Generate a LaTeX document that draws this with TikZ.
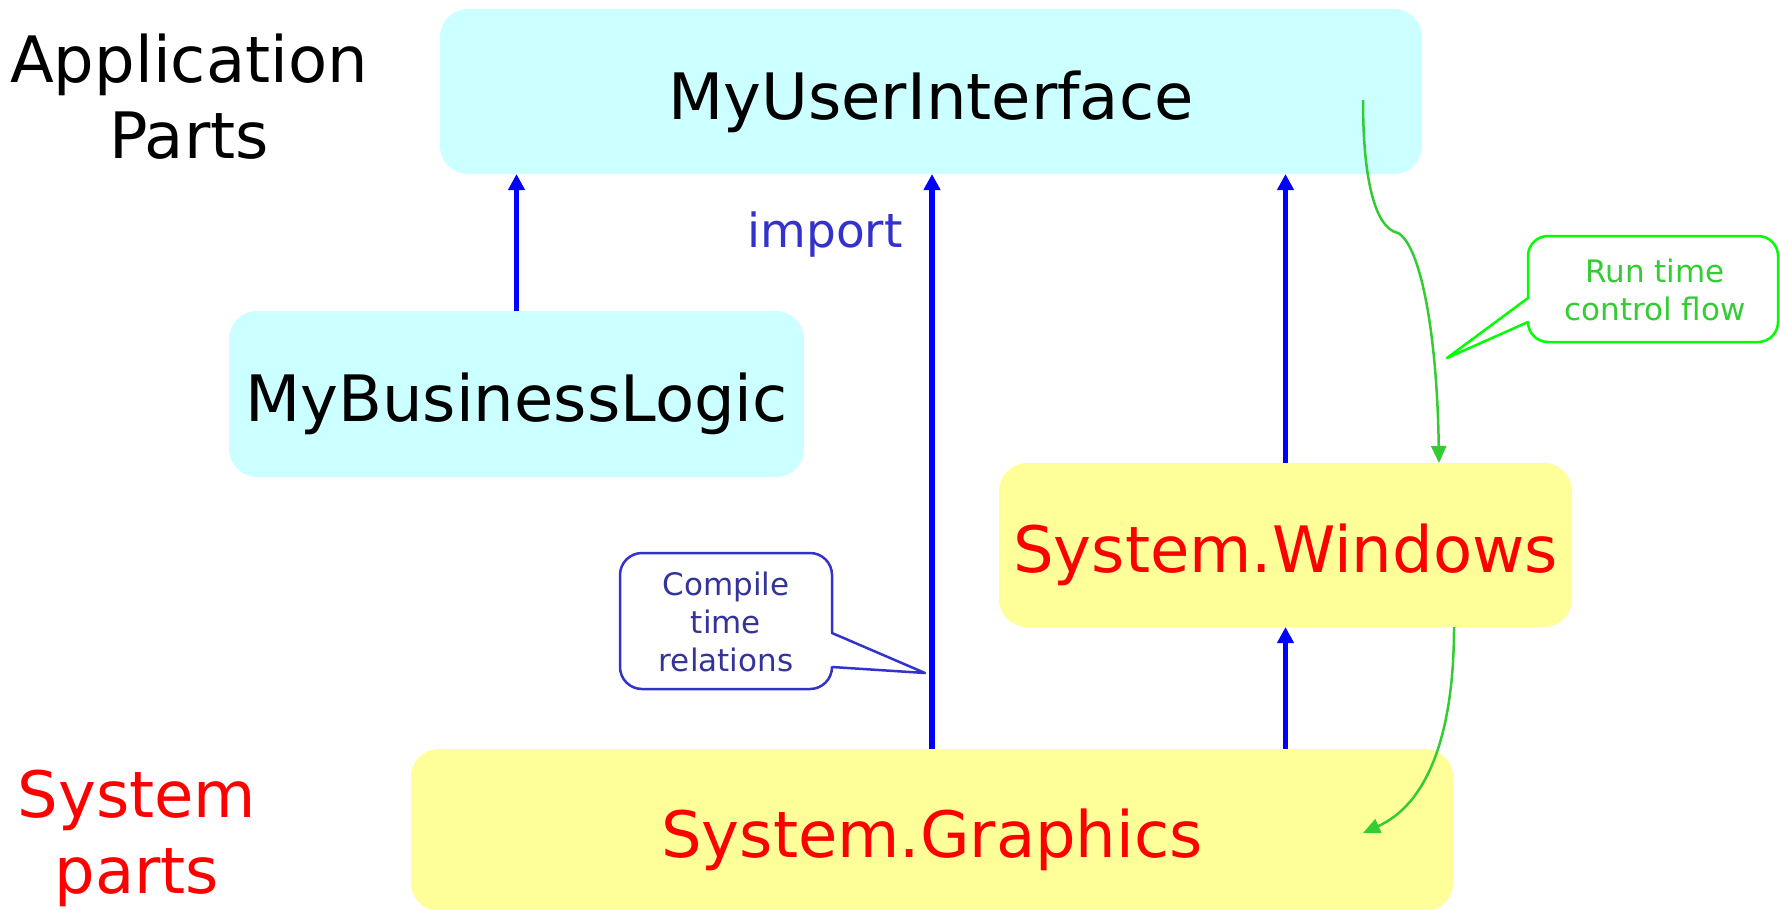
\documentclass[tikz,border=0pt]{standalone}
\usepackage{fontspec}
\setmainfont{DejaVu Sans}
\usetikzlibrary{arrows.meta}

\definecolor{uicyan}{HTML}{CCFFFF}
\definecolor{sysyellow}{HTML}{FFFF99}
\definecolor{sysred}{HTML}{FF0000}
\definecolor{depblue}{HTML}{0000FF}
\definecolor{importblue}{HTML}{3333CC}
\definecolor{notetext}{HTML}{333399}
\definecolor{noteedge}{HTML}{3333CC}
\definecolor{flowgreen}{HTML}{33CC33}
\definecolor{flowedge}{HTML}{00FF00}

\begin{document}
\begin{tikzpicture}[x=1pt,y=-1pt,
  partbox/.style={rectangle, rounded corners=28pt, inner sep=0pt, outer sep=0pt,
    minimum height=165pt, text height=70pt, text depth=15pt,
    font=\fontsize{64}{76}\selectfont},
  appbox/.style={partbox, fill=uicyan, text=black},
  sysbox/.style={partbox, fill=sysyellow, text=sysred},
  sidelabel/.style={inner sep=0pt, align=center, anchor=north,
    font=\fontsize{64}{76}\selectfont},
  notetextstyle/.style={inner sep=0pt, align=center, anchor=north,
    font=\fontsize{31}{38}\selectfont},
  dependency/.style={draw=depblue, line width=5.5pt,
    -{Triangle[length=16pt,width=16pt]}},
  flow/.style={draw=flowgreen, line width=2.5pt,
    -{Triangle[length=17pt,width=15pt]}},
  compileedge/.style={draw=noteedge, line width=2.5pt, line join=round},
  flowedgeline/.style={draw=flowedge, line width=2.5pt, line join=round}
]
\useasboundingbox (0,0) rectangle (1780,910);

% layers of the application
\node[appbox, minimum width=982pt] (ui) at (931,91.5) {MyUserInterface};
\node[appbox, minimum width=575pt, minimum height=166pt] (logic) at (516.5,394) {MyBusinessLogic};
\node[sysbox, minimum width=573pt, minimum height=164pt] (windows) at (1285.5,545) {System.Windows};
\node[sysbox, minimum width=1042pt, minimum height=162pt] (graphics) at (932,830) {System.Graphics};

% side captions
\node[sidelabel, text=black] (appParts) at (189,33.5) {Application\\Parts};
\node[sidelabel, text=sysred] (sysParts) at (137,770) {System\\parts};

% compile time dependencies
\draw[dependency] (logic.north) -- (logic.north |- ui.south);
\draw[dependency] (graphics.north) -- (graphics.north |- ui.south);
\draw[dependency] (windows.north) -- (windows.north |- ui.south);
\draw[dependency] (graphics.north -| windows.north) -- (windows.south);

\node[inner sep=0pt, anchor=base, text=importblue, font=\fontsize{47}{56}\selectfont]
  (importLabel) at (825,247) {import};

% run time control flow
\coordinate (flowStart) at (1363,100);
\coordinate (flowEnd) at (1363,833);
\draw[flow] (flowStart) .. controls (1363,180) and (1375,228) .. (1398,233)
  .. controls (1420,245) and (1437,330) .. ([xshift=153.5pt]windows.north);
\draw[flow] ([xshift=168.5pt]windows.south) .. controls (1454,740) and (1425,805) .. (flowEnd);

% callout: compile time relations
\node[notetextstyle, text=notetext] (compileNote) at (726,571.5) {Compile\\time\\relations};
\coordinate (compileTip) at (925,673);
\draw[compileedge] (642,553) -- (810,553) arc[start angle=90, end angle=0, radius=22pt]
  -- (832,633) -- (compileTip) -- (832,667)
  arc[start angle=0, end angle=-90, radius=22pt] -- (642,689)
  arc[start angle=270, end angle=180, radius=22pt] -- (620,575)
  arc[start angle=180, end angle=90, radius=22pt] -- cycle;

% callout: run time control flow
\node[notetextstyle, text=flowgreen] (flowNote) at (1655,258.5) {Run time\\control flow};
\coordinate (flowTip) at (1447,358);
\draw[flowedgeline] (1548,236) -- (1758,236) arc[start angle=90, end angle=0, radius=20pt]
  -- (1778,322) arc[start angle=0, end angle=-90, radius=20pt] -- (1548,342)
  arc[start angle=270, end angle=180, radius=20pt] -- (flowTip) -- (1528,298)
  -- (1528,256) arc[start angle=180, end angle=90, radius=20pt] -- cycle;
\end{tikzpicture}
\end{document}
